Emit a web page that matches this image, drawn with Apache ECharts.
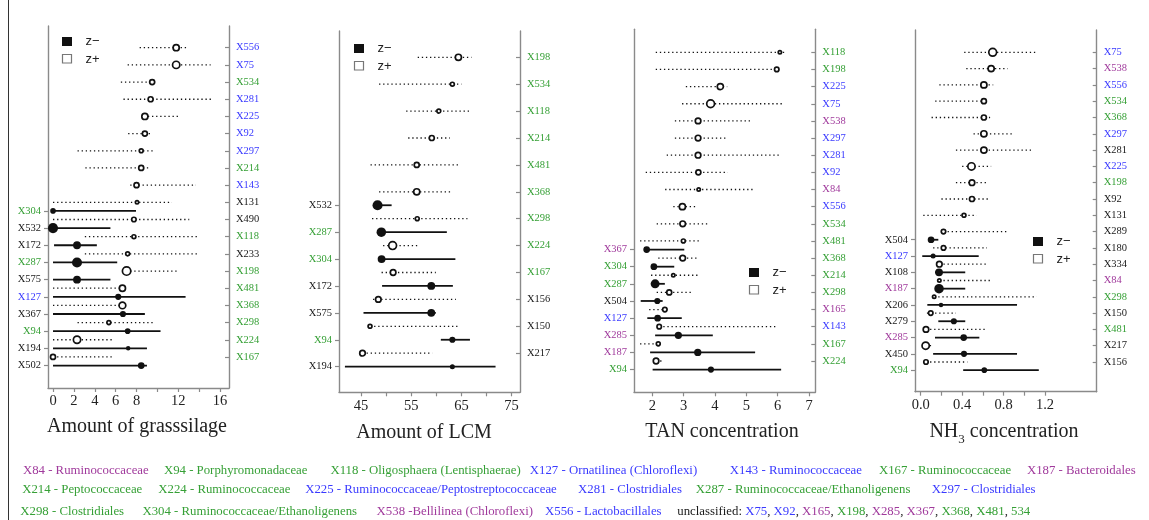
<!DOCTYPE html>
<html><head><meta charset="utf-8">
<script src="https://cdn.jsdelivr.net/npm/echarts@6/dist/echarts.min.js"></script>
<style>html,body{margin:0;padding:0;background:#fff}#c{width:1149px;height:520px}</style>
</head><body><div id="c"></div>
<script>
// ---------------- DATA ----------------
// Panel 1: Amount of grasssilage
const p1Title = 'Amount of grasssilage';
const p1XTicks = [0,2,4,6,8,10,12,14,16];
const p1XLabels = [0,2,4,6,8,12,16];
const p1PlusNames = ['X556','X75','X534','X281','X225','X92','X297','X214','X143','X131','X490','X118','X233','X198','X481','X368','X298','X224','X167'];
const p1PlusCp  = [11.8,11.8,9.5,9.35,8.8,8.8,8.45,8.45,8.0,8.05,7.75,7.75,7.15,7.05,6.65,6.65,5.35,2.3,0.0];
const p1PlusLo  = [8.3,7.15,6.5,6.75,8.7,7.2,2.35,3.1,7.4,0.0,0.0,3.05,3.05,7.0,0.0,0.0,2.35,0.0,0.0];
const p1PlusHi  = [12.9,15.1,9.6,15.25,12.2,9.5,9.8,9.3,13.7,11.4,13.05,13.8,13.8,11.9,6.7,6.7,9.8,5.8,5.8];
const p1PlusZ   = [7,8,6,6,7,6,5,6,6,4.5,5.5,5,5,9,7,7.5,5,8,6];
const p1MinusNames = ['X304','X532','X172','X287','X575','X127','X367','X94','X194','X502'];
const p1MinusCp = [0.0,0.0,2.3,2.3,2.3,6.25,6.7,7.15,7.2,8.45];
const p1MinusLo = [0.0,0.0,0.1,0.0,0.0,0.0,0.0,0.0,0.0,0.0];
const p1MinusHi = [7.95,5.5,4.2,6.15,5.5,12.7,8.8,10.3,9.0,9.0];
const p1MinusZ  = [5,9,7,9,7,5.5,5.5,5,4,6];

// Panel 2: Amount of LCM
const p2Title = 'Amount of LCM';
const p2XTicks = [45,50,55,60,65,70,75];
const p2XLabels = [45,55,65,75];
const p2PlusNames = ['X198','X534','X118','X214','X481','X368','X298','X224','X167','X156','X150','X217'];
const p2PlusCp  = [64.4,63.2,60.5,59.1,56.1,56.1,56.2,51.3,51.4,48.45,46.8,45.3];
const p2PlusLo  = [56.3,48.6,54.0,54.4,46.9,48.6,47.2,49.4,49.1,47.4,46.8,45.3];
const p2PlusHi  = [67.0,65.0,67.0,62.7,64.6,63.1,66.2,56.5,59.9,63.9,64.5,59.2];
const p2PlusZ   = [7,5,5,6,6,7,5,8.5,6.5,6.5,5,6.5];
const p2MinusNames = ['X532','X287','X304','X172','X575','X94','X194'];
const p2MinusCp = [48.3,49.05,49.1,59.0,59.0,63.2,63.2];
const p2MinusLo = [48.3,49.0,49.1,49.2,45.5,60.9,41.8];
const p2MinusHi = [51.1,62.1,63.8,63.3,59.9,66.7,71.8];
const p2MinusZ  = [9,8.5,7,7,7,5.5,4.5];

// Panel 3: TAN concentration
const p3Title = 'TAN concentration';
const p3XTicks = [2,3,4,5,6,7];
const p3XLabels = [2,3,4,5,6,7];
const p3PlusNames = ['X118','X198','X225','X75','X538','X297','X281','X92','X84','X556','X534','X481','X368','X214','X298','X165','X143','X167','X224'];
const p3PlusCp  = [6.07,5.97,4.17,3.86,3.46,3.46,3.46,3.47,3.48,2.96,2.97,2.99,2.97,2.67,2.54,2.4,2.22,2.19,2.12];
const p3PlusLo  = [2.11,2.11,3.07,2.95,2.72,2.72,2.46,1.79,2.41,2.67,2.14,1.61,2.19,1.96,2.14,1.9,2.22,1.61,2.12];
const p3PlusHi  = [6.21,5.97,4.39,6.15,5.19,4.42,6.05,4.41,5.24,3.44,3.84,3.5,3.44,3.47,3.26,2.4,5.97,2.19,2.35];
const p3PlusZ   = [4.5,5.5,7,8.5,6.5,6.5,6.5,6,4.5,7,6.5,5,6.5,4.5,6,5.5,5.5,5,6.5];
const p3MinusNames = ['X367','X304','X287','X504','X127','X285','X187','X94'];
const p3MinusCp = [1.82,2.05,2.09,2.16,2.17,2.83,3.45,3.87];
const p3MinusLo = [1.82,2.05,2.09,1.63,1.84,2.09,1.93,2.01];
const p3MinusHi = [3.02,2.7,2.4,2.33,2.94,3.93,5.28,6.11];
const p3MinusZ  = [6,6,8,5.5,6,6.5,6.5,5.5];

// Panel 4: NH3 concentration
const p4TitleMain = 'NH';
const p4TitleSub = '3';
const p4TitleRest = ' concentration';
const p4XTicks = [0,0.2,0.4,0.6,0.8,1.0,1.2];
const p4XLabels = [0,0.4,0.8,1.2];
const p4PlusNames = ['X75','X538','X556','X534','X368','X297','X281','X225','X198','X92','X131','X289','X180','X334','X84','X298','X150','X481','X217','X156'];
const p4PlusCp  = [0.695,0.68,0.61,0.61,0.61,0.61,0.61,0.49,0.495,0.495,0.418,0.22,0.22,0.18,0.18,0.13,0.097,0.051,0.048,0.051];
const p4PlusLo  = [0.42,0.44,0.18,0.14,0.105,0.51,0.34,0.40,0.34,0.20,0.025,0.22,0.12,0.18,0.18,0.13,0.06,0.051,0.048,0.051];
const p4PlusHi  = [1.11,0.84,0.70,0.61,0.67,0.90,1.08,0.68,0.63,0.65,0.54,0.83,0.64,0.65,0.685,1.12,0.34,0.62,0.12,0.45];
const p4PlusZ   = [8.5,7,7,6,6,7,7,8,6.5,6,5,5.5,5.5,6.5,4.5,4.5,5.5,6.5,8,5.5];
const p4MinusNames = ['X504','X127','X108','X187','X206','X279','X285','X450','X94'];
const p4MinusCp = [0.10,0.12,0.177,0.177,0.196,0.32,0.415,0.418,0.614];
const p4MinusLo = [0.10,0.015,0.138,0.16,0.064,0.17,0.138,0.12,0.41];
const p4MinusHi = [0.17,0.56,0.43,0.43,0.93,0.43,0.566,0.93,1.14];
const p4MinusZ  = [6,4.5,7,8.5,4,5.5,6,5.5,5];

// taxonomic colour groups (g = green, b = blue, p = purple, anything else black)
const taxonGroup = {X84:'p',X94:'g',X118:'g',X127:'b',X143:'b',X167:'g',X187:'p',X214:'g',X224:'g',X225:'b',X281:'b',X287:'g',X297:'b',X298:'g',X304:'g',X538:'p',X556:'b',X75:'b',X92:'b',X165:'p',X198:'g',X285:'p',X367:'p',X368:'g',X481:'g',X534:'g'};
const blackInPanel = [['X367'],[],[],['X281','X92']];

// footnote lines: [text, group]
const noteLine1 = [['X84 - Ruminococcaceae','p'],['X94 - Porphyromonadaceae','g'],['X118 - Oligosphaera (Lentisphaerae)','g'],['X127 - Ornatilinea (Chloroflexi)','b'],['X143 - Ruminococcaceae','b'],['X167 - Ruminococcaceae','g'],['X187 - Bacteroidales','p']];
const noteLine2 = [['X214 - Peptococcaceae','g'],['X224 - Ruminococcaceae','g'],['X225 - Ruminococcaceae/Peptostreptococcaceae','b'],['X281 - Clostridiales','b'],['X287 - Ruminococcaceae/Ethanoligenens','g'],['X297 - Clostridiales','b']];
const noteLine3 = [['X298 - Clostridiales','g'],['X304 - Ruminococcaceae/Ethanoligenens','g'],['X538 -Bellilinea (Chloroflexi)','p'],['X556 - Lactobacillales','b']];
const unclassifiedLabel = 'unclassified: ';
const unclassifiedList = [['X75','b'],['X92','b'],['X165','p'],['X198','g'],['X285','p'],['X367','p'],['X368','g'],['X481','g'],['534','g']];

// ---------------- LAYOUT / STYLE ----------------
const COL = {g:'#36a036', b:'#3a3aff', p:'#a03a9c', k:'#1a1a1a'};
const AX = '#8a8a8a';
const SERIF = '"Liberation Serif", "Times New Roman", serif';
const SANS = '"Liberation Sans", Arial, sans-serif';
const SIZE_K = 1.12; // pixels of circle diameter per unit of z magnitude

const layout = [
  {left:48, right:229, top:26, bottom:388, xMin:-0.48, xMax:16.86, row0:47.7, step:17.18, off:9.5, titleX:137, titleY:427, leg:[62,37]},
  {left:339, right:520, top:31, bottom:392.3, xMin:40.62, xMax:76.67, row0:57.3, step:26.9, off:5.5, titleX:424, titleY:433, leg:[354,44]},
  {left:634, right:815.3, top:29.3, bottom:392.3, xMin:1.416, xMax:7.2, row0:52.3, step:17.15, off:11.5, titleX:722, titleY:432, leg:[749,268]},
  {left:915, right:1096.7, top:30, bottom:391.7, xMin:-0.055, xMax:1.699, row0:52.3, step:16.3, off:11.5, titleX:1004, titleY:431, leg:[1033,237]}
];

const panels = [
  {plus:[p1PlusNames,p1PlusCp,p1PlusLo,p1PlusHi,p1PlusZ], minus:[p1MinusNames,p1MinusCp,p1MinusLo,p1MinusHi,p1MinusZ], xt:p1XTicks, xl:p1XLabels, fmt:v=>String(v)},
  {plus:[p2PlusNames,p2PlusCp,p2PlusLo,p2PlusHi,p2PlusZ], minus:[p2MinusNames,p2MinusCp,p2MinusLo,p2MinusHi,p2MinusZ], xt:p2XTicks, xl:p2XLabels, fmt:v=>String(v)},
  {plus:[p3PlusNames,p3PlusCp,p3PlusLo,p3PlusHi,p3PlusZ], minus:[p3MinusNames,p3MinusCp,p3MinusLo,p3MinusHi,p3MinusZ], xt:p3XTicks, xl:p3XLabels, fmt:v=>String(v)},
  {plus:[p4PlusNames,p4PlusCp,p4PlusLo,p4PlusHi,p4PlusZ], minus:[p4MinusNames,p4MinusCp,p4MinusLo,p4MinusHi,p4MinusZ], xt:p4XTicks, xl:p4XLabels, fmt:v=>Number(v).toFixed(1)}
];

function grpFor(name, pi){
  if (blackInPanel[pi].indexOf(name) >= 0) return 'k';
  return taxonGroup[name] || 'k';
}
const richLab = {};
['g','b','p','k'].forEach(k=>{ richLab[k] = {color:COL[k], fontFamily:SERIF, fontSize:10.5}; });

function renderOpen(params, api){
  const cp=api.value(0), lo=api.value(1), hi=api.value(2), row=api.value(3), z=api.value(4);
  const a=api.coord([lo,row]), b=api.coord([hi,row]), c=api.coord([cp,row]);
  const d = z*SIZE_K;
  return {type:'group', children:[
    {type:'line', shape:{x1:a[0],y1:a[1],x2:b[0],y2:b[1]}, style:{stroke:'#111', lineWidth:1.3, lineDash:[1.3,2.8]}},
    {type:'circle', shape:{cx:c[0],cy:c[1],r:Math.max(1.2, d/2-0.85)}, style:{fill:'#fff', stroke:'#111', lineWidth:1.7}}
  ]};
}
function renderFilled(params, api){
  const cp=api.value(0), lo=api.value(1), hi=api.value(2), row=api.value(3), z=api.value(4);
  const a=api.coord([lo,row]), b=api.coord([hi,row]), c=api.coord([cp,row]);
  const d = z*SIZE_K;
  return {type:'group', children:[
    {type:'line', shape:{x1:a[0],y1:a[1],x2:b[0],y2:b[1]}, style:{stroke:'#111', lineWidth:1.8}},
    {type:'circle', shape:{cx:c[0],cy:c[1],r:d/2}, style:{fill:'#111'}}
  ]};
}

const grid=[], xAxis=[], yAxis=[], series=[], graphic=[];
panels.forEach((p,i)=>{
  const l = layout[i];
  grid.push({left:l.left, top:l.top, width:l.right-l.left, height:l.bottom-l.top, outerBoundsMode:'none', containLabel:false});
  xAxis.push({type:'value', gridIndex:i, min:l.xMin, max:l.xMax,
    axisLine:{show:true, onZero:false, lineStyle:{color:AX, width:1.4}},
    axisTick:{show:true, length:4, customValues:p.xt, lineStyle:{color:AX, width:1.2}},
    axisLabel:{show:true, customValues:p.xl, formatter:p.fmt, margin:6, fontFamily:SERIF, fontSize:14.5, color:'#222'},
    splitLine:{show:false}});
  const yMin = -(l.row0-l.top)/l.step, yMax = yMin + (l.bottom-l.top)/l.step;
  const pn = p.plus[0], mn = p.minus[0];
  const plusRows = pn.map((_,k)=>k), minusRows = mn.map((_,k)=>k+l.off);
  yAxis.push({type:'value', gridIndex:i, position:'left', inverse:true, min:yMin, max:yMax,
    axisLine:{show:true, onZero:false, lineStyle:{color:AX, width:1.4}},
    axisTick:{show:true, inside:false, length:4, customValues:minusRows, lineStyle:{color:AX, width:1.2}},
    axisLabel:{show:true, customValues:minusRows, margin:7, rich:richLab,
      formatter:v=>{const n=mn[Math.round(v-l.off)]; return n?('{'+grpFor(n,i)+'|'+n+'}'):'';}},
    splitLine:{show:false}});
  yAxis.push({type:'value', gridIndex:i, position:'right', inverse:true, min:yMin, max:yMax,
    axisLine:{show:true, onZero:false, lineStyle:{color:AX, width:1.4}},
    axisTick:{show:true, inside:true, length:4, customValues:plusRows, lineStyle:{color:AX, width:1.2}},
    axisLabel:{show:true, customValues:plusRows, margin:7, rich:richLab,
      formatter:v=>{const n=pn[Math.round(v)]; return n?('{'+grpFor(n,i)+'|'+n+'}'):'';}},
    splitLine:{show:false}});
  const plusData = pn.map((n,k)=>[p.plus[1][k], p.plus[2][k], p.plus[3][k], k, p.plus[4][k]]);
  const minusData = mn.map((n,k)=>[p.minus[1][k], p.minus[2][k], p.minus[3][k], k+l.off, p.minus[4][k]]);
  series.push({type:'custom', xAxisIndex:i, yAxisIndex:2*i+1, data:plusData, renderItem:renderOpen, encode:{x:[0,1,2], y:3}, clip:false, silent:true});
  series.push({type:'custom', xAxisIndex:i, yAxisIndex:2*i, data:minusData, renderItem:renderFilled, encode:{x:[0,1,2], y:3}, clip:false, silent:true});
  // legend
  const [lx,ly] = l.leg;
  graphic.push({type:'rect', shape:{x:lx,y:ly,width:10,height:9}, style:{fill:'#111'}});
  graphic.push({type:'rect', shape:{x:lx+0.5,y:ly+17.5,width:9,height:8.5}, style:{fill:'#fff', stroke:'#777', lineWidth:1.2}});
  graphic.push({type:'text', x:lx+23.5, y:ly+4.5, style:{text:'z\u2212', fontFamily:SANS, fontSize:13, fill:'#222', verticalAlign:'middle'}});
  graphic.push({type:'text', x:lx+23.5, y:ly+22, style:{text:'z+', fontFamily:SANS, fontSize:13, fill:'#222', verticalAlign:'middle'}});
});

// axis titles
const titles = [p1Title, p2Title, p3Title, null];
titles.forEach((t,i)=>{
  if (t===null) return;
  graphic.push({type:'text', x:layout[i].titleX, y:layout[i].titleY, style:{text:t, fontFamily:SERIF, fontSize:20, fill:'#222', align:'center', verticalAlign:'middle'}});
});
graphic.push({type:'text', x:layout[3].titleX, y:layout[3].titleY, style:{
  text:'{m|'+p4TitleMain+'}{s|'+p4TitleSub+'}{m|'+p4TitleRest+'}', align:'center', verticalAlign:'middle',
  rich:{m:{fontFamily:SERIF, fontSize:20, fill:'#222', verticalAlign:'bottom', lineHeight:22},
        s:{fontFamily:SERIF, fontSize:13, fill:'#222', verticalAlign:'bottom', lineHeight:22, padding:[0,0,-4,0]}}}});

// figure frame line
graphic.push({type:'line', shape:{x1:8.5,y1:0,x2:8.5,y2:520}, style:{stroke:'#333', lineWidth:1}});

// footnotes
const NOTE_FS = 12.8;
const noteX1 = [22.9,163.9,330.4,529.8,729.8,878.9,1026.9];
const noteX2 = [22.2,158.3,305.2,578.1,695.8,931.8];
const noteX3 = [20.3,142.4,376.6,545];
function addNotes(items, xs, y){
  items.forEach((it,k)=>{
    graphic.push({type:'text', x:xs[k], y:y, style:{text:it[0], fontFamily:SERIF, fontSize:NOTE_FS, fill:COL[it[1]], verticalAlign:'middle'}});
  });
}
addNotes(noteLine1, noteX1, 470.5);
addNotes(noteLine2, noteX2, 489.5);
addNotes(noteLine3, noteX3, 511.5);
const richN = {};
['k','g','b','p'].forEach(k=>{ richN[k] = {fill:COL[k], fontFamily:SERIF, fontSize:NOTE_FS}; });
let utext = '{k|'+unclassifiedLabel+'}';
unclassifiedList.forEach((u,k)=>{ utext += '{'+u[1]+'|'+u[0]+'}' + (k<unclassifiedList.length-1 ? '{k|, }' : ''); });
graphic.push({type:'text', x:677.3, y:511.5, style:{text:utext, rich:richN, verticalAlign:'middle', fontFamily:SERIF, fontSize:NOTE_FS}});

const chart = echarts.init(document.getElementById('c'), null, {renderer:'canvas'});
chart.setOption({
  animation:false, backgroundColor:'#fff',
  grid, xAxis, yAxis, series, graphic
});
</script></body></html>
